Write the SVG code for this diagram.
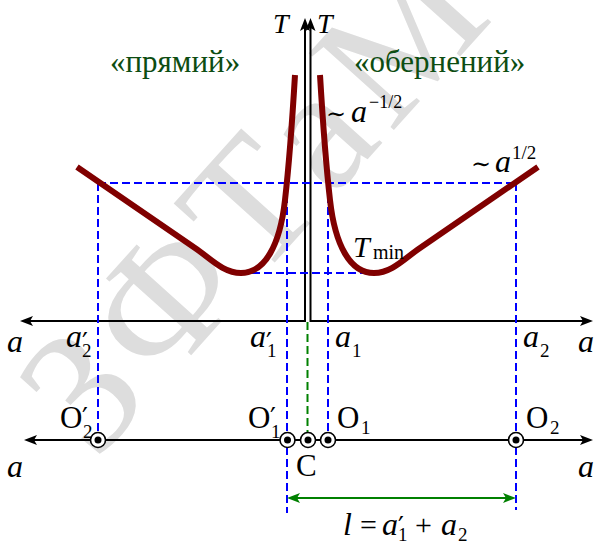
<svg xmlns="http://www.w3.org/2000/svg" width="595" height="542" viewBox="0 0 595 542">
<style>
.ax{stroke:#000;stroke-width:2;fill:none}
.bd{stroke:#0000ff;stroke-width:2;stroke-dasharray:8,4;fill:none}
.gd{stroke:#008000;stroke-width:2;stroke-dasharray:8,4;fill:none}
.cv{stroke:#800000;stroke-width:6;fill:none;stroke-linecap:butt}
.it{font-family:"Liberation Serif",serif;font-style:italic;fill:#000}
.rm{font-family:"Liberation Serif",serif;fill:#000}
.pr{font-family:"DejaVu Serif",serif;fill:#000;font-size:26px}
.tl{font-family:"DejaVu Serif",serif;fill:#000;font-size:24px}
.gr{font-family:"Liberation Serif",serif;fill:#0d4d12;font-size:31px}
.pt{fill:#fff;stroke:#000;stroke-width:1.6}
</style>
<defs>
<marker id="ah" markerUnits="userSpaceOnUse" viewBox="-6 -6 16 12" refX="0" refY="0" markerWidth="16" markerHeight="12" orient="auto-start-reverse" overflow="visible">
<path d="M8,0 L-5,-5 L-2,0 L-5,5 Z" fill="#000"/>
</marker>
<marker id="ahg" markerUnits="userSpaceOnUse" viewBox="-6 -6 16 12" refX="0" refY="0" markerWidth="16" markerHeight="12" orient="auto-start-reverse" overflow="visible">
<path d="M8,0 L-5,-5 L-2,0 L-5,5 Z" fill="#008000"/>
</marker>
</defs>
<text x="95" y="462" transform="rotate(-48 95 462)" font-family="Liberation Serif,serif" font-size="175" letter-spacing="10" fill="#dddddd">ЗФТаМ</text>
<g id="connectors">
<line class="ax" x1="305" y1="321" x2="28" y2="321" marker-end="url(#ah)"/>
<line class="ax" x1="305" y1="322" x2="305" y2="26" marker-end="url(#ah)"/>
<line class="ax" x1="310.5" y1="322" x2="310.5" y2="26" marker-end="url(#ah)"/>
<line class="ax" x1="310.5" y1="321" x2="585" y2="321" marker-end="url(#ah)"/>
<line class="ax" x1="32" y1="440" x2="585" y2="440" marker-start="url(#ah)" marker-end="url(#ah)"/>
<path class="bd" d="M98,183 H516 M240,273 H374 M98,183 V440 M287,183 V513 M328,183 V440 M516,183 V510"/>
<path class="gd" d="M307.5,322 V440"/>
<line x1="295" y1="498" x2="508" y2="498" stroke="#008000" stroke-width="2" marker-start="url(#ahg)" marker-end="url(#ahg)"/>
</g>
<g id="curve-right">
<path class="cv" d="M320,75 C323,125 326,165 330,200 C335,245 350,273 374,273 C392,273 405,258 420,248 L538,167"/>
</g>
<g id="curve-left">
<path class="cv" transform="matrix(-1,0,0,1,615,0)" d="M320,75 C323,125 326,165 330,200 C335,245 350,273 374,273 C392,273 405,258 420,248 L538,167"/>
</g>
<g id="points">
<g id="O2p"><circle class="pt" cx="98" cy="440" r="7.5"/><circle cx="98" cy="440" r="3.5"/></g>
<g id="O1p"><circle class="pt" cx="287.5" cy="440" r="7.5"/><circle cx="287.5" cy="440" r="3.5"/></g>
<g id="C"><circle class="pt" cx="308" cy="440" r="7.5"/><circle cx="308" cy="440" r="3.5"/></g>
<g id="O1"><circle class="pt" cx="328" cy="440" r="7.5"/><circle cx="328" cy="440" r="3.5"/></g>
<g id="O2"><circle class="pt" cx="516" cy="440" r="7.5"/><circle cx="516" cy="440" r="3.5"/></g>
</g>
<g id="labels">
<text class="it" x="273" y="33" font-size="28">T</text>
<text class="it" x="317" y="33" font-size="28">T</text>
<text class="gr" x="110" y="72">«прямий»</text>
<text class="gr" x="354" y="72">«обернений»</text>
<text class="tl" x="326" y="122">∼</text>
<text class="it" x="351" y="122" font-size="32">a</text>
<text class="rm" x="369" y="108" font-size="18">−1/2</text>
<text class="tl" x="471" y="172">∼</text>
<text class="it" x="495" y="172" font-size="32">a</text>
<text class="rm" x="512" y="159" font-size="19">1/2</text>
<text class="it" x="353" y="257" font-size="30">T</text>
<text class="rm" x="373" y="259" font-size="20">min</text>
<text class="it" x="7" y="352" font-size="32">a</text>
<text class="it" x="66" y="347" font-size="32">a</text><text class="pr" x="82" y="351">′</text><text class="rm" x="82" y="357" font-size="19">2</text>
<text class="it" x="250" y="347" font-size="32">a</text><text class="pr" x="266" y="351">′</text><text class="rm" x="267" y="357" font-size="19">1</text>
<text class="it" x="335" y="347" font-size="32">a</text><text class="rm" x="352" y="357" font-size="19">1</text>
<text class="it" x="523" y="347" font-size="32">a</text><text class="rm" x="540" y="357" font-size="19">2</text>
<text class="it" x="578" y="352" font-size="32">a</text>
<text class="rm" x="60" y="428" font-size="31">O</text><text class="pr" x="82" y="426">′</text><text class="rm" x="83" y="438" font-size="19">2</text>
<text class="rm" x="248" y="428" font-size="31">O</text><text class="pr" x="270" y="426">′</text><text class="rm" x="271" y="438" font-size="19">1</text>
<text class="rm" x="337" y="428" font-size="31">O</text><text class="rm" x="361" y="434" font-size="19">1</text>
<text class="rm" x="526" y="428" font-size="31">O</text><text class="rm" x="550" y="434" font-size="19">2</text>
<text class="rm" x="296" y="476" font-size="31">C</text>
<text class="it" x="7" y="477" font-size="32">a</text>
<text class="it" x="578" y="477" font-size="32">a</text>
<text class="it" x="343" y="535" font-size="32">l</text>
<text class="rm" x="360" y="535" font-size="30">=</text>
<text class="it" x="382" y="535" font-size="32">a</text><text class="pr" x="398" y="535">′</text><text class="rm" x="398" y="541" font-size="19">1</text>
<text class="rm" x="415" y="535" font-size="30">+</text>
<text class="it" x="441" y="535" font-size="32">a</text><text class="rm" x="458" y="541" font-size="19">2</text>
</g>
</svg>
